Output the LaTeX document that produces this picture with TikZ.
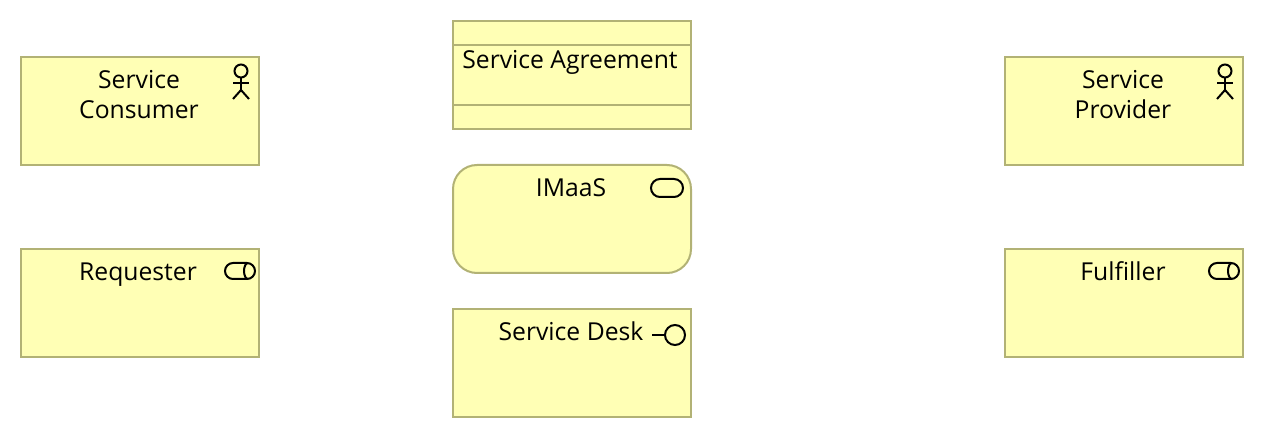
\documentclass[tikz,border=0pt]{standalone}
\usepackage{fontspec}
\setmainfont{Open Sans}
\usepackage{xcolor}
\definecolor{boxfill}{RGB}{255,255,181}
\definecolor{boxline}{RGB}{178,178,117}
\usetikzlibrary{positioning}
\tikzset{
	elembox/.style={draw=boxline, fill=boxfill, line width=2pt, minimum width=238pt, minimum height=108pt, inner sep=0pt, outer sep=0pt},
	elemtext/.style={align=center, font=\fontsize{24.7}{30}\selectfont, inner sep=0pt, execute at begin node={\rule{0pt}{20pt}}},
	icon/.style={draw=black, line width=2pt},
}
\begin{document}
\begin{tikzpicture}[x=1pt, y=-1pt]
	\useasboundingbox (0,0) rectangle (1264,438);
	
	%boxes
	\node[elembox] (consumer) at (140,111) {};
	\node[elembox] (requester) at (140,303) {};
	\node[elembox] (agreement) at (572,75) {};
	\node[elembox, rounded corners=24pt] (imaas) at (572,219) {};
	\node[elembox] (desk) at (572,363) {};
	\node[elembox] (provider) at (1124,111) {};
	\node[elembox] (fulfiller) at (1124,303) {};
	
	%contract lines
	\draw[boxline, line width=2pt] (453,45) -- (691,45);
	\draw[boxline, line width=2pt] (453,105) -- (691,105);
	
	%labels
	\node[elemtext, below=13pt of consumer.north, xshift=-1pt] (consumertext) {Service\\Consumer};
	\node[elemtext, below=11pt of requester.north, xshift=-2pt] (requestertext) {Requester};
	\node[elemtext, below=27pt of agreement.north, xshift=-2pt] (agreementtext) {Service Agreement};
	\node[elemtext, below=11pt of imaas.north, xshift=-1pt] (imaastext) {IMaaS};
	\node[elemtext, below=11pt of desk.north, xshift=-1pt] (desktext) {Service Desk};
	\node[elemtext, below=13pt of provider.north, xshift=-1pt] (providertext) {Service\\Provider};
	\node[elemtext, below=11pt of fulfiller.north, xshift=-1pt] (fulfillertext) {Fulfiller};
	
	%actor icons
	\foreach \x in {241,1225} {
		\draw[icon] (\x,71) circle (6.5);
		\draw[icon] (\x,77.5) -- (\x,90);
		\draw[icon] (\x-8,83) -- (\x+8,83);
		\draw[icon] (\x-8,99) -- (\x,90) -- (\x+8,99);
	}
	
	%collaboration icons
	\foreach \x in {225,1209} {
		\draw[icon, rounded corners=8pt] (\x,263) rectangle (\x+30,279);
		\draw[icon] (\x+23,263) arc (-90:-270:4 and 8);
	}
	
	%service icon
	\draw[icon, rounded corners=9pt] (651,179) rectangle (683,197);
	
	%interface icon
	\draw[icon] (675,335) circle (10);
	\draw[icon] (652,335) -- (665,335);
\end{tikzpicture}
\end{document}
